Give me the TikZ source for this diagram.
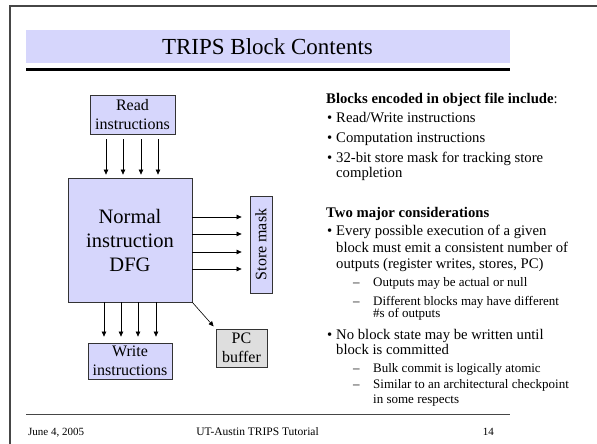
\documentclass[tikz,border=0pt]{standalone}
\usepackage{fontspec}
\setmainfont{Liberation Serif}
\usetikzlibrary{arrows.meta}
\definecolor{boxblue}{RGB}{214,214,252}
\definecolor{pcgray}{RGB}{222,222,222}
\definecolor{framegray}{RGB}{70,70,70}
\begin{document}
\begin{tikzpicture}[x=1pt,y=-1pt]
    \tikzstyle{unit}=[rectangle,draw=black!80,fill=boxblue,line width=0.8pt,inner sep=0pt,align=center,font=\fontsize{16}{19}\selectfont]
    \tikzstyle{flow}=[-{Triangle[length=5pt,width=4.5pt]},line width=0.6pt]
    \tikzstyle{txt}=[anchor=base west,inner sep=0pt,font=\fontsize{14.7}{16}\selectfont]
    \tikzstyle{sub}=[anchor=base west,inner sep=0pt,font=\fontsize{13}{14}\selectfont]
    \useasboundingbox (0,0) rectangle (597,444);
    \draw[framegray,line width=1.2pt] (597,6) -- (10,6) -- (10,444);
    \fill[boxblue] (26,30) rectangle (510,63);
    \node[anchor=base,inner sep=0pt,font=\fontsize{23}{23}\selectfont] (title) at (267.5,55) {TRIPS Block Contents};
    \draw[line width=3pt] (26,69.5) -- (510,69.5);

    \node[unit,minimum width=85pt,minimum height=39pt] (read) at (132.5,114.5) {Read\\instructions};
    \node[unit,minimum width=124pt,minimum height=124pt,font=\fontsize{20.5}{24}\selectfont] (dfg) at (130,240) {Normal\\instruction\\DFG};
    \node[unit,minimum width=22pt,minimum height=97pt] (store) at (261,244.5) {\rotatebox{90}{Store mask}};
    \node[unit,minimum width=84pt,minimum height=36pt] (write) at (130,361) {Write\\instructions};
    \node[unit,fill=pcgray,minimum width=51pt,minimum height=38pt] (pc) at (241.5,348) {PC\\buffer};

    \foreach \dx in {-26.5,-9.5,8.5,25.5}
        \draw[flow,shorten <=5pt,shorten >=3pt] ([xshift=\dx pt]read.south) -- ([xshift=\dx pt]read.south |- dfg.north);
    \foreach \dy in {23,6,-12,-29}
        \draw[flow,shorten >=8pt] ([yshift=\dy pt]dfg.east) -- ([yshift=\dy pt]dfg.east -| store.west);
    \foreach \dx in {-26,-9,8,26}
        \draw[flow,shorten >=6pt] ([xshift=\dx pt]dfg.south) -- ([xshift=\dx pt]dfg.south |- write.north);
    \draw[flow,shorten >=3pt] (dfg.south east) -- (pc.north west);

    \node[txt] (head1) at (326,103) {\textbf{Blocks encoded in object file include}:};
    \node[txt] (rw) at (327,122) {\makebox[9pt][l]{•}Read/Write instructions};
    \node[txt] (comp) at (327,142) {\makebox[9pt][l]{•}Computation instructions};
    \node[txt] (mask) at (327,162) {\makebox[9pt][l]{•}32-bit store mask for tracking store};
    \node[txt] (maskb) at (336,177) {completion};
    \node[txt] (head2) at (326,217) {\textbf{Two major considerations}};
    \node[txt] (exec) at (327,235) {\makebox[9pt][l]{•}Every possible execution of a given};
    \node[txt] (execb) at (336,252) {block must emit a consistent number of};
    \node[txt] (execc) at (336,268) {outputs (register writes, stores, PC)};
    \node[sub] (null) at (353,286) {\makebox[20pt][l]{–}Outputs may be actual or null};
    \node[sub] (diff) at (353,305) {\makebox[20pt][l]{–}Different blocks may have different};
    \node[sub] (diffb) at (373,317) {\#s of outputs};
    \node[txt] (state) at (327,339) {\makebox[9pt][l]{•}No block state may be written until};
    \node[txt] (stateb) at (336,354) {block is committed};
    \node[sub] (bulk) at (353,372) {\makebox[20pt][l]{–}Bulk commit is logically atomic};
    \node[sub] (ckpt) at (353,388) {\makebox[20pt][l]{–}Similar to an architectural checkpoint};
    \node[sub] (ckptb) at (373,403) {in some respects};

    \draw[framegray,line width=0.8pt] (26,414) -- (510,414);
    \node[anchor=base west,inner sep=0pt,font=\fontsize{11}{11}\selectfont] (date) at (28,435) {June 4, 2005};
    \node[anchor=base,inner sep=0pt,font=\fontsize{11.5}{11.5}\selectfont] (event) at (257.5,435) {UT-Austin TRIPS Tutorial};
    \node[anchor=base east,inner sep=0pt,font=\fontsize{11}{11}\selectfont] (page) at (494,435) {14};
\end{tikzpicture}
\end{document}
